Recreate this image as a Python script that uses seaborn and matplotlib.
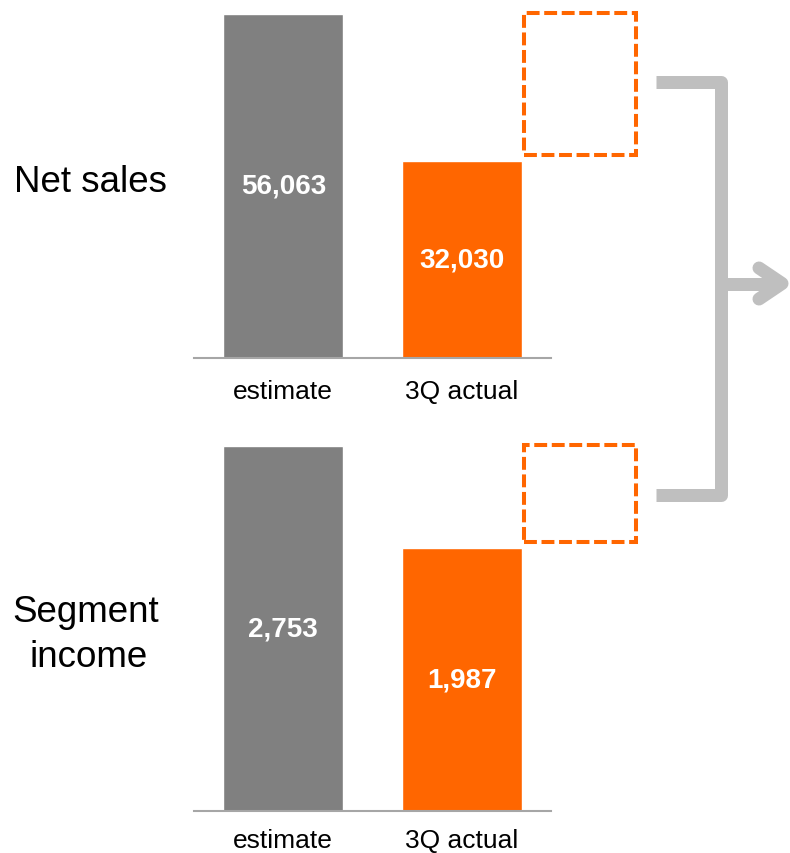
import matplotlib
matplotlib.use("Agg")
import matplotlib.pyplot as plt
from matplotlib.patches import Rectangle
from matplotlib.lines import Line2D
import seaborn as sns
import pandas as pd

# --- data -------------------------------------------------------------
categories = ["estimate", "3Q actual"]
net_sales = [56063, 32030]
segment_income = [2753, 1987]
panel_titles = ["Net sales", "Segment\nincome"]

GRAY = "#808080"
ORANGE = "#FF6600"
AXIS_GRAY = "#A6A6A6"
ARROW_GRAY = "#BFBFBF"

sns.set_style("white")
plt.rcParams["font.family"] = ["Liberation Sans", "DejaVu Sans"]

W, H = 790, 854
fig = plt.figure(figsize=(W / 100, H / 100), dpi=100)


def px_axes(left, baseline, width, height):
    """Axes placed by pixel box (top-left origin), bottom edge at baseline."""
    return fig.add_axes([left / W, 1 - baseline / H, width / W, height / H])


BAR_W = 0.67


def draw_panel(values, baseline, bar_px, ax_h, label_pad):
    ax = px_axes(194, baseline, 357, ax_h)
    df = pd.DataFrame({"cat": categories, "val": values})
    sns.barplot(data=df, x="cat", y="val", hue="cat", palette=[GRAY, ORANGE],
                saturation=1, width=BAR_W, legend=False, ax=ax)
    est, act = values
    ymax = est * ax_h / bar_px
    ax.set_ylim(0, ymax)
    ax.set_xlim(-0.5, 1.5)
    ax.set_xlabel("")
    ax.set_ylabel("")
    ax.set_yticks([])
    for s in ("top", "left", "right"):
        ax.spines[s].set_visible(False)
    ax.spines["bottom"].set_color(AXIS_GRAY)
    ax.spines["bottom"].set_linewidth(1.5)
    ax.tick_params(axis="x", length=0, pad=label_pad, labelsize=19,
                   colors="black")

    for i, v in enumerate(values):
        ax.text(i, v / 2, f"{v:,}", ha="center", va="center", color="white",
                fontsize=20, fontweight="bold")

    # dashed outline of the gap between actual and estimate
    per_px = ymax / ax_h
    y0 = act + 6 * per_px
    y1 = est + 1 * per_px
    x0 = 1 + BAR_W / 2 + 0.012
    box = Rectangle((x0, y0), 0.63, y1 - y0, fill=False, edgecolor=ORANGE,
                    linewidth=2.9, linestyle=(0, (3.2, 1.15)), clip_on=False)
    ax.add_patch(box)
    return ax


draw_panel(net_sales, 358.5, 343.5, 350, 15.5)
draw_panel(segment_income, 812, 365, 372, 12.5)

# row titles
fig.text(90 / W, 1 - 192 / H, panel_titles[0], ha="center", va="baseline",
         fontsize=26.5, color="black")
line1, line2 = panel_titles[1].split("\n")
fig.text(86 / W, 1 - 622 / H, line1, ha="center", va="baseline",
         fontsize=26.5, color="black")
fig.text(89 / W, 1 - 667 / H, line2, ha="center", va="baseline",
         fontsize=26.5, color="black")

# bracket with arrow joining both panels
ov = fig.add_axes([0, 0, 1, 1])
ov.set_xlim(0, W)
ov.set_ylim(H, 0)
ov.axis("off")
lw = 13 * 72 / 100
ov.add_line(Line2D([656, 720.5, 720.5, 656], [82.5, 82.5, 496, 496],
                   color=ARROW_GRAY, linewidth=lw, solid_joinstyle="round",
                   solid_capstyle="butt"))
ov.add_line(Line2D([720.5, 780], [284.5, 284.5], color=ARROW_GRAY,
                   linewidth=lw, solid_capstyle="butt"))
ov.add_line(Line2D([759, 782, 759], [269, 284.5, 300], color=ARROW_GRAY,
                   linewidth=lw, solid_joinstyle="round",
                   solid_capstyle="round"))

fig.savefig("out.png", dpi=100)
